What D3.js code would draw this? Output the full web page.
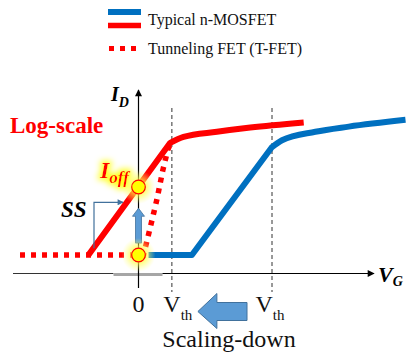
<!DOCTYPE html>
<html><head><meta charset="utf-8">
<script src="https://cdn.jsdelivr.net/npm/d3@7"></script>
<style>body{margin:0;background:#fff}svg{display:block}</style>
</head><body><svg id="c" width="407" height="359" font-family="'Liberation Serif', Tinos, 'Times New Roman', Times, 'DejaVu Serif', serif"></svg>
<script>
// ---- data (V_G in volts, log10(I_D) in decades) ----
const seriesNames = ["Typical n-MOSFET", "Tunneling FET (T-FET)"];
const blueV = [0.03, 0.16, 0.40, 0.43, 0.53, 0.63, 0.80];
const blueLogI = [-12, -12, -5.65, -5.25, -4.75, -4.45, -4.05];
const redV = [-0.15, 0.095, 0.135, 0.235, 0.335, 0.495];
const redLogI = [-12, -5.4, -5.05, -4.75, -4.5, -4.2];
const tfetV = [-0.355, 0.0, 0.015, 0.035, 0.055, 0.073, 0.088, 0.097];
const tfetLogI = [-12, -12, -12, -10.4, -8.75, -7.0, -5.8, -5.4];
const markerV = [0, 0];
const markerLogI = [-8, -12];
const vthValues = [0.1, 0.4];
const xTickValues = [0, 0.1, 0.4];
const xTickLabels = ["0", "V|th", "V|th"];

const svg = d3.select("#c");
const x = d3.scaleLinear().domain([0, 0.4]).range([138.5, 272]);
const y = d3.scaleLinear().domain([-12, -8]).range([255, 187]);
const RED = "#ff0000", BLUE = "#0070c0", AFILL = "#5b9bd5", ASTROKE = "#41719c";

const defs = svg.append("defs");
const rg = defs.append("radialGradient").attr("id", "glow");
rg.append("stop").attr("offset", "0%").attr("stop-color", "#ffff00").attr("stop-opacity", 1);
rg.append("stop").attr("offset", "45%").attr("stop-color", "#ffff40").attr("stop-opacity", 0.8);
rg.append("stop").attr("offset", "100%").attr("stop-color", "#ffff80").attr("stop-opacity", 0);
const f = defs.append("filter").attr("id", "tglow").attr("x", "-50%").attr("y", "-50%").attr("width", "200%").attr("height", "200%");
f.append("feMorphology").attr("in", "SourceAlpha").attr("operator", "dilate").attr("radius", 2).attr("result", "d");
f.append("feGaussianBlur").attr("in", "d").attr("stdDeviation", 3).attr("result", "b");
f.append("feFlood").attr("flood-color", "#ffff00").attr("flood-opacity", 0.9);
f.append("feComposite").attr("in2", "b").attr("operator", "in").attr("result", "g");
const fm = f.append("feMerge"); fm.append("feMergeNode").attr("in", "g"); fm.append("feMergeNode").attr("in", "SourceGraphic");
defs.append("marker").attr("id", "ah").attr("viewBox", "0 0 10 10").attr("refX", 9).attr("refY", 5)
  .attr("markerWidth", 9).attr("markerHeight", 7).attr("markerUnits", "userSpaceOnUse").attr("orient", "auto")
  .append("path").attr("d", "M0,0L10,5L0,10Z").attr("fill", "#000");
defs.append("marker").attr("id", "ahb").attr("viewBox", "0 0 10 10").attr("refX", 9).attr("refY", 5)
  .attr("markerWidth", 7).attr("markerHeight", 6).attr("markerUnits", "userSpaceOnUse").attr("orient", "auto")
  .append("path").attr("d", "M0,0L10,5L0,10Z").attr("fill", ASTROKE);

// ---- legend ----
const lg = svg.append("g");
lg.append("line").attr("x1", 108).attr("x2", 141).attr("y1", 12).attr("y2", 12).attr("stroke", BLUE).attr("stroke-width", 6);
lg.append("line").attr("x1", 108).attr("x2", 141).attr("y1", 25.5).attr("y2", 25.5).attr("stroke", RED).attr("stroke-width", 5.5);
lg.append("line").attr("x1", 109).attr("x2", 138).attr("y1", 48.5).attr("y2", 48.5).attr("stroke", RED).attr("stroke-width", 5).attr("stroke-dasharray", "5,6");
lg.append("text").attr("x", 148).attr("y", 25).attr("font-size", 16).attr("fill", "#111").text(seriesNames[0]);
lg.append("text").attr("x", 148).attr("y", 54).attr("font-size", 16).attr("fill", "#111").text(seriesNames[1]);

// ---- axes ----
const yAxisTop = 90, xAxisY = 273.5, xAxisRight = 374;
svg.append("line").attr("x1", 13).attr("x2", x(0) - 25).attr("y1", xAxisY).attr("y2", xAxisY).attr("stroke", "#333").attr("stroke-width", 1.2);
svg.append("line").attr("x1", x(0) - 25).attr("x2", x(0) + 24).attr("y1", xAxisY + 1).attr("y2", xAxisY + 1).attr("stroke", "#a6a6a6").attr("stroke-width", 3);
svg.append("line").attr("x1", x(0) + 24).attr("x2", xAxisRight).attr("y1", xAxisY).attr("y2", xAxisY).attr("stroke", "#000").attr("stroke-width", 1.2).attr("marker-end", "url(#ah)");
svg.append("line").attr("x1", x(0)).attr("x2", x(0)).attr("y1", 288).attr("y2", yAxisTop).attr("stroke", "#000").attr("stroke-width", 1.2).attr("marker-end", "url(#ah)");
vthValues.forEach(v => {
  svg.append("line").attr("x1", x(v)).attr("x2", x(v)).attr("y1", 108).attr("y2", 292)
    .attr("stroke", "#333").attr("stroke-width", 1).attr("stroke-dasharray", "4,3");
});

// ---- curves: straight rise up to the knee, smooth saturation after it ----
function drawCurve(vs, ls, knee, color) {
  const pts = d3.zip(vs, ls);
  const lin = d3.line().x(d => x(d[0])).y(d => y(d[1]));
  const smooth = d3.line().x(d => x(d[0])).y(d => y(d[1])).curve(d3.curveMonotoneX);
  const d = lin(pts.slice(0, knee + 1)) + smooth(pts.slice(knee)).replace(/^M[^CLQ]*/, "");
  svg.append("path").attr("d", d).attr("fill", "none").attr("stroke", color).attr("stroke-width", 6)
    .attr("stroke-linejoin", "round");
}
svg.append("path").datum(d3.zip(tfetV, tfetLogI))
  .attr("d", d3.line().x(d => x(d[0])).y(d => y(d[1])).curve(d3.curveMonotoneY === undefined ? d3.curveLinear : d3.curveLinear))
  .attr("fill", "none").attr("stroke", RED).attr("stroke-width", 5.5).attr("stroke-dasharray", "5,6");
drawCurve(redV, redLogI, 1, RED);
drawCurve(blueV, blueLogI, 2, BLUE);

// ---- SS bracket ----
const bx = 94;
svg.append("path").attr("d", `M${bx},${y(-11.6)}V${y(-8.9)}H${bx + 29}`)
  .attr("fill", "none").attr("stroke", ASTROKE).attr("stroke-width", 1.2).attr("marker-end", "url(#ahb)");
svg.append("text").attr("x", 61).attr("y", 217).attr("font-size", 23).attr("font-weight", "bold").attr("font-style", "italic").text("SS");

// ---- up arrow (I_off increase) ----
const ax = x(0), aBot = y(-11.3), aTop = y(-9.25), headH = 8;
svg.append("path").attr("d", `M${ax - 3},${aBot}V${aTop + headH}H${ax - 6}L${ax},${aTop}L${ax + 6},${aTop + headH}H${ax + 3}V${aBot}Z`)
  .attr("fill", AFILL).attr("stroke", ASTROKE).attr("stroke-width", 0.8);

// ---- markers with glow ----
markerV.forEach((v, i) => {
  svg.append("circle").attr("cx", x(v)).attr("cy", y(markerLogI[i])).attr("r", 17).attr("fill", "url(#glow)").attr("opacity", 0.85);
});
markerV.forEach((v, i) => {
  svg.append("circle").attr("cx", x(v)).attr("cy", y(markerLogI[i])).attr("r", 6.8).attr("fill", "#ffff00").attr("stroke", RED).attr("stroke-width", 1.2);
});

// ---- I_off label ----
const io = svg.append("text").attr("x", 100).attr("y", 178).attr("fill", RED).attr("font-weight", "bold").attr("font-style", "italic").attr("filter", "url(#tglow)");
io.append("tspan").attr("font-size", 24).text("I");
io.append("tspan").attr("font-size", 17).attr("dy", 5).text("off");

// ---- Log-scale ----
svg.append("text").attr("x", 10).attr("y", 133).attr("fill", RED).attr("font-size", 23).attr("font-weight", "bold").text("Log-scale");

// ---- axis titles ----
const idt = svg.append("text").attr("x", 111).attr("y", 101).attr("font-weight", "bold").attr("font-style", "italic");
idt.append("tspan").attr("font-size", 20).text("I");
idt.append("tspan").attr("font-size", 14).attr("dy", 6).text("D");
const vgt = svg.append("text").attr("x", 378).attr("y", 282).attr("font-weight", "bold").attr("font-style", "italic");
vgt.append("tspan").attr("font-size", 22).text("V");
vgt.append("tspan").attr("font-size", 14).attr("dy", 4).text("G");

// ---- x tick labels ----
const labelDx = [0, 6, -2];
xTickValues.forEach((v, i) => {
  const parts = xTickLabels[i].split("|");
  const t = svg.append("text").attr("x", x(v) + labelDx[i]).attr("y", 312).attr("text-anchor", "middle").attr("font-size", 24).attr("fill", "#111");
  t.append("tspan").text(parts[0]);
  if (parts[1]) t.append("tspan").attr("font-size", 15).attr("dy", 8).text(parts[1]);
});

// ---- scaling-down arrow ----
const sx1 = x(0.1) + 26, sx2 = x(0.4) - 25, sy = 311.5;
svg.append("path").attr("d", `M${sx1},${sy}L${sx1 + 19},${sy - 18}V${sy - 9}H${sx2}V${sy + 9}H${sx1 + 19}V${sy + 17}Z`)
  .attr("fill", AFILL).attr("stroke", ASTROKE).attr("stroke-width", 1);
svg.append("text").attr("x", 229).attr("y", 347).attr("text-anchor", "middle").attr("font-size", 24).attr("fill", "#111").text("Scaling-down");
</script></body></html>
